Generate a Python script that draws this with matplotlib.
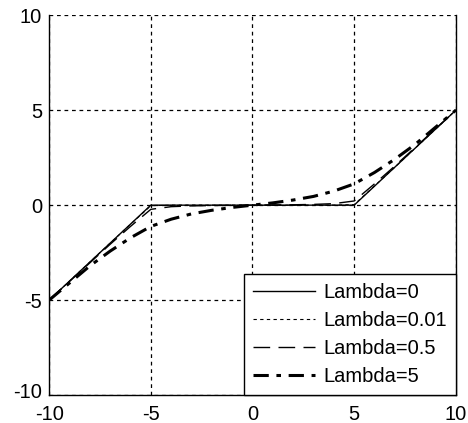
import numpy as np
import matplotlib.pyplot as plt
import matplotlib.transforms as mtransforms

plt.rcParams['font.family'] = ['Liberation Sans', 'DejaVu Sans']
plt.rcParams['axes.unicode_minus'] = False

# 数据
x = [-10, -9, -8, -7, -6, -5, -4, -3, -2, -1, 0, 1, 2, 3, 4, 5, 6, 7, 8, 9, 10]
y_l0 = [-5, -4, -3, -2, -1, 0, 0, 0, 0, 0, 0, 0, 0, 0, 0, 0, 1, 2, 3, 4, 5]
y_l001 = [-5, -4, -3, -2, -1.01, -0.03, 0, 0, 0, 0, 0, 0, 0, 0, 0, 0.03, 1.01, 2, 3, 4, 5]
y_l05 = [-5, -4.02, -3.04, -2.06, -1.12, -0.22, -0.08, -0.04, -0.02, -0.01, 0,
         0.01, 0.02, 0.04, 0.08, 0.22, 1.12, 2.06, 3.04, 4.02, 5]
y_l5 = [-5, -4.1, -3.2, -2.42, -1.72, -1.12, -0.74, -0.46, -0.27, -0.12, 0,
        0.12, 0.27, 0.46, 0.74, 1.12, 1.72, 2.42, 3.2, 4.1, 5]
labels = ['Lambda=0', 'Lambda=0.01', 'Lambda=0.5', 'Lambda=5']

fig = plt.figure(figsize=(4.68, 4.23), dpi=100)
ax = fig.add_axes([0.105, 0.066, 0.869, 0.898])

ax.plot(x, y_l0, color='black', linewidth=1.0, label=labels[0])
ax.plot(x, y_l001, color='black', linewidth=0.8, linestyle=(0, (3, 3)), label=labels[1])
ax.plot(x, y_l05, color='black', linewidth=1.0, linestyle=(0, (12, 6)), label=labels[2])
ax.plot(x, y_l5, color='black', linewidth=2.2, linestyle=(0, (5, 2.5, 1.5, 2.5)), label=labels[3])

ax.set_xlim(-10, 10)
ax.set_ylim(-10, 10)
ax.set_xticks([-10, -5, 0, 5, 10])
ax.set_yticks([-10, -5, 0, 5, 10])
ax.grid(True, color='black', linestyle=(0, (3, 3)), linewidth=0.9)
ax.spines['top'].set_visible(False)
for s in ['left', 'bottom', 'right']:
    ax.spines[s].set_linewidth(1.0)
ax.tick_params(direction='in', length=0, labelsize=14.5)
ax.tick_params(axis='x', pad=7)
ax.tick_params(axis='y', pad=5)
# y 轴最下面的 -10 稍微上移，避免和 x 轴的 -10 重叠
ylab = ax.get_yticklabels()
ylab[0].set_transform(ylab[0].get_transform() +
                      mtransforms.ScaledTranslation(0, 5 / 100, fig.dpi_scale_trans))

leg = ax.legend(loc='lower right', fontsize=14.5, frameon=True, fancybox=False,
                edgecolor='black', framealpha=1, borderaxespad=0,
                handlelength=3.1, handletextpad=0.4, labelspacing=0.45,
                borderpad=0.45)
leg.get_frame().set_linewidth(1.0)

fig.savefig('out.png', dpi=100)
